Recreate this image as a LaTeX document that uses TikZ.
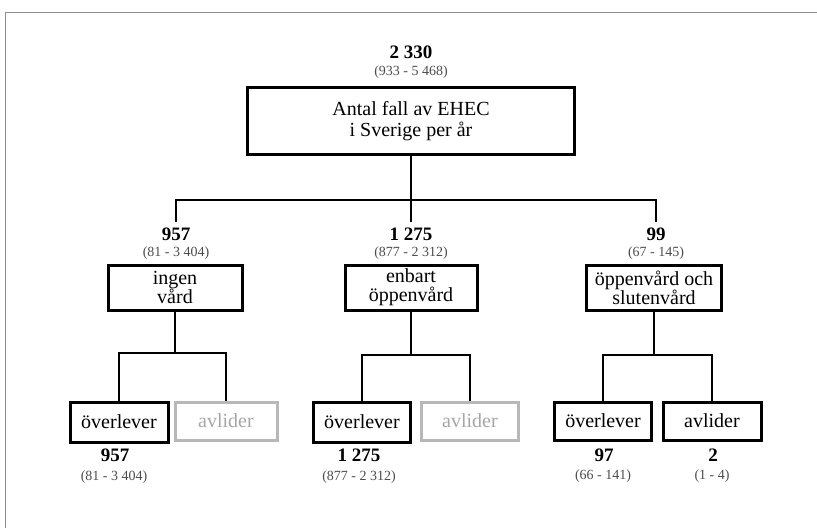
\documentclass[tikz,border=0pt]{standalone}
\usepackage{fontspec}
\setmainfont{Liberation Serif}
\begin{document}
\begin{tikzpicture}[x=1pt,y=-1pt,
        box/.style={draw,line width=3pt,align=center,inner sep=2pt,font=\fontsize{20}{19}\selectfont},
        greybox/.style={box,draw=black!28,text=black!35},
        num/.style={inner sep=0pt,font=\bfseries\fontsize{19}{19}\selectfont},
        ci/.style={inner sep=0pt,text=black!70,font=\fontsize{14}{14}\selectfont},
        link/.style={line width=2.8pt}]
        \useasboundingbox (0,0) rectangle (817,528);
        %cornice
        \draw[black!45,line width=1pt](817,12)--(5,12)--(5,528);

        %radice
        \node[num] (tot) at (411,52) {2 330};
        \node[ci] (totci) at (411,72) {(933 - 5 468)};
        \node[box,line width=2.6pt,minimum width=327pt,minimum height=67pt,font=\fontsize{20}{21}\selectfont] (ehec) at (411,121) {Antal fall av EHEC\\i Sverige per år};

        %secondo livello
        \node[num] (ingenn) at (176,234) {957};
        \node[ci] (ingenci) at (176,253) {(81 - 3 404)};
        \node[box,minimum width=134pt,minimum height=45pt] (ingen) at (175,287.5) {ingen\\vård};

        \node[num] (enbartn) at (411,234) {1 275};
        \node[ci] (enbartci) at (411,253) {(877 - 2 312)};
        \node[box,minimum width=132pt,minimum height=45pt] (enbart) at (411,287.5) {enbart\\öppenvård};

        \node[num] (sluten) at (656,234) {99};
        \node[ci] (slutenci) at (656,253) {(67 - 145)};
        \node[box,minimum width=135pt,minimum height=45pt] (oppen) at (654,287.5) {öppenvård och\\slutenvård};

        %linee dalla radice
        \coordinate (bar) at (ehec.south |- 0,200);
        \draw[link](ehec.south)--(bar);
        \draw[link,shorten >=5pt](bar)-|(ingenn.north);
        \draw[link,shorten >=5pt](bar)--(enbartn.north);
        \draw[link,shorten >=5pt](bar)-|(sluten.north);

        %foglie
        \node[box,minimum width=98pt,minimum height=40pt] (ovA) at (119,422) {överlever};
        \node[greybox,minimum width=102pt,minimum height=38pt] (avA) at (226,421) {avlider};
        \node[box,minimum width=97pt,minimum height=40pt] (ovB) at (362,422) {överlever};
        \node[greybox,minimum width=97pt,minimum height=38pt] (avB) at (470,421) {avlider};
        \node[box,minimum width=97pt,minimum height=38pt] (ovC) at (603,421) {överlever};
        \node[box,minimum width=98pt,minimum height=38pt] (avC) at (712,421) {avlider};

        %linee verso le foglie
        \coordinate (barA) at (ingen.south |- 0,353);
        \draw[link](ingen.south)--(barA);
        \draw[link](barA)-|(ovA.north);
        \draw[link](barA)-|(avA.north);
        \coordinate (barB) at (enbart.south |- 0,355);
        \draw[link](enbart.south)--(barB);
        \draw[link](barB)-|(ovB.north);
        \draw[link](barB)-|(avB.north);
        \coordinate (barC) at (oppen.south |- 0,355);
        \draw[link](oppen.south)--(barC);
        \draw[link](barC)-|(ovC.north);
        \draw[link](barC)-|(avC.north);

        %numeri sotto le foglie
        \node[num] (ovAn) at (115,455) {957};
        \node[ci] (ovAci) at (114,477) {(81 - 3 404)};
        \node[num] (ovBn) at (359,455) {1 275};
        \node[ci] (ovBci) at (359,477) {(877 - 2 312)};
        \node[num] (ovCn) at (604,455) {97};
        \node[ci] (ovCci) at (603,476) {(66 - 141)};
        \node[num] (avCn) at (713,455) {2};
        \node[ci] (avCci) at (712,476) {(1 - 4)};
\end{tikzpicture}
\end{document}
